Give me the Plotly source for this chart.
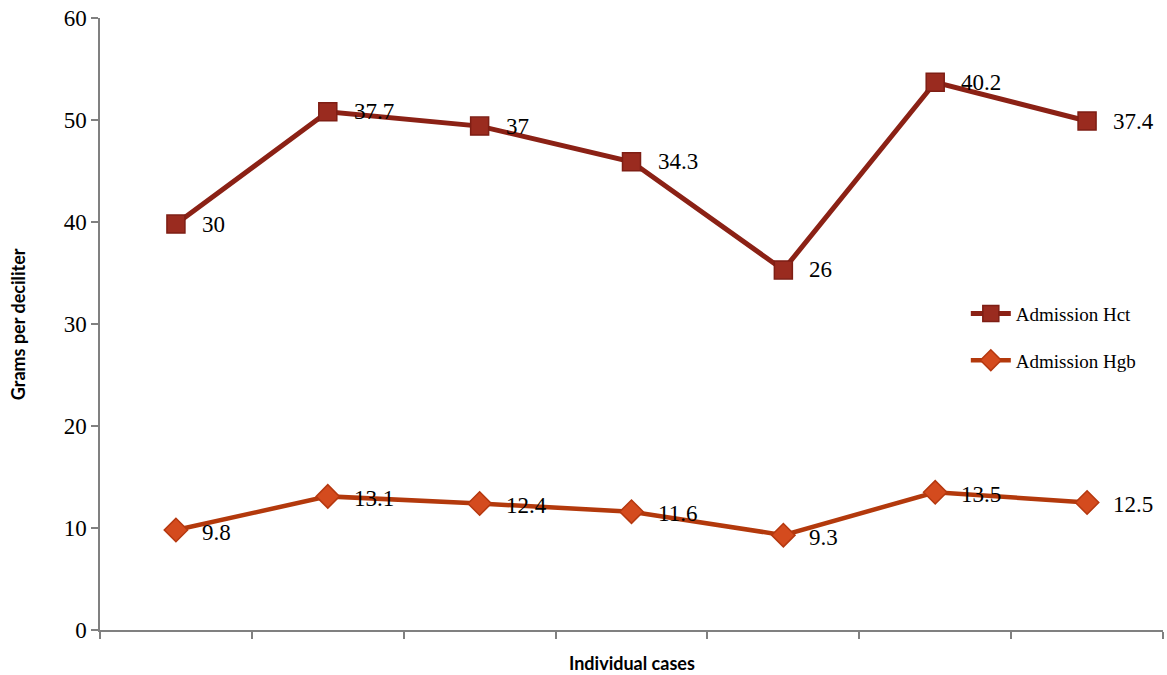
import plotly.graph_objects as go

cases = ["Case 1", "Case 2", "Case 3", "Case 4", "Case 5", "Case 6", "Case 7"]
hgb = [9.8, 13.1, 12.4, 11.6, 9.3, 13.5, 12.5]
hct = [30, 37.7, 37, 34.3, 26, 40.2, 37.4]
y_ticks = [0, 10, 20, 30, 40, 50, 60]

x = list(range(len(cases)))
hct_stacked = [a + b for a, b in zip(hgb, hct)]  # stacked line chart

SERIF = "Liberation Serif, Times New Roman, serif"
SANS = "Lato, Open Sans, sans-serif"
label_font = dict(family=SERIF, size=23, color="#000000")

fig = go.Figure()
fig.add_trace(go.Scatter(
    x=x, y=hct_stacked, name="Admission Hct", mode="lines+markers", legendgroup="hct",
    line=dict(color="#8B2115", width=5),
    marker=dict(symbol="square", size=18, color="#9A2B1F", line=dict(color="#7E1E14", width=1.5)),
    cliponaxis=False,
))
fig.add_trace(go.Scatter(
    x=x, y=hgb, name="Admission Hgb", mode="lines+markers", legendgroup="hgb",
    line=dict(color="#B3390C", width=4.5),
    marker=dict(symbol="diamond", size=18, color="#D44B1E", line=dict(color="#B5380F", width=1.5)),
    cliponaxis=False,
))

annotations = []
for xi, yi, v in zip(x, hct_stacked, hct):
    annotations.append(dict(x=xi, y=yi, text=f"{v:g}", showarrow=False, xanchor="left", yanchor="middle",
                            xshift=24, yshift=0, font=label_font))
for xi, yi, v in zip(x, hgb, hgb):
    annotations.append(dict(x=xi, y=yi, text=f"{v:g}", showarrow=False, xanchor="left", yanchor="middle",
                            xshift=24, yshift=-2, font=label_font))

fig.update_layout(
    width=1167, height=675,
    margin=dict(l=100, r=4, t=18, b=45, autoexpand=False),
    plot_bgcolor="white", paper_bgcolor="white",
    showlegend=True,
    legend=dict(x=0.8145, y=0.548, xanchor="left", yanchor="top",
                font=dict(family=SERIF, size=19, color="#000000"),
                bgcolor="rgba(0,0,0,0)", tracegroupgap=19, itemwidth=40),
    font=dict(family=SERIF, color="#000000"),
    annotations=annotations,
)
fig.add_annotation(x=0.5, xref="paper", y=-0.054, yref="paper", yanchor="middle", text="<b>Individual cases</b>",
                   showarrow=False, font=dict(family=SANS, size=18, color="#000000"))
fig.add_annotation(x=-0.077, xref="paper", y=0.5, yref="paper", xanchor="center", text="<b>Grams per deciliter</b>",
                   textangle=-90, showarrow=False, font=dict(family=SANS, size=18, color="#000000"))
fig.update_xaxes(
    range=[-0.5, len(cases) - 0.5], automargin=False,
    tickmode="array", tickvals=[i - 0.5 for i in range(len(cases) + 1)], ticktext=[""] * (len(cases) + 1),
    ticks="outside", ticklen=7, tickcolor="#808080", tickwidth=1.5,
    showline=True, linecolor="#808080", linewidth=1.5, showgrid=False, zeroline=False,
)
fig.update_yaxes(
    range=[0, 60], tickmode="array", tickvals=y_ticks, automargin=False,
    ticks="outside", ticklen=7, tickcolor="#808080", tickwidth=1.5,
    showline=True, linecolor="#808080", linewidth=1.5, showgrid=False, zeroline=False,
    tickfont=dict(family=SERIF, size=23, color="#000000"),
)

fig.write_html("out.html", config={"displayModeBar": False},
               post_script="document.body.style.margin='0px';")
